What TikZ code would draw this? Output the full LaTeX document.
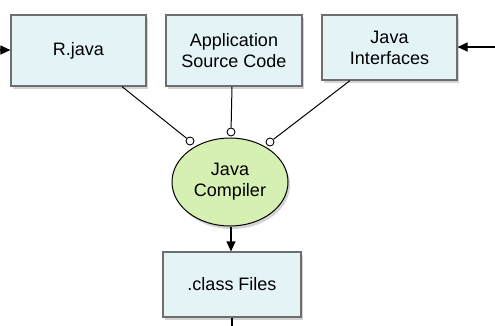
\documentclass[tikz,border=0pt]{standalone}
\usepackage{fontspec}
\setmainfont{Liberation Sans}
\usetikzlibrary{shapes.geometric,shadows,arrows.meta}
\definecolor{boxfill}{HTML}{E4F4F6}
\definecolor{ellfill}{HTML}{D6EFB2}
\definecolor{edge}{HTML}{6E6E6E}
\tikzset{
  srcbox/.style={draw=edge, line width=1.2pt, fill=boxfill, align=center,
    drop shadow={shadow xshift=2pt, shadow yshift=-3pt, opacity=0.35},
    font=\fontsize{18}{21}\selectfont, inner sep=0pt},
  compiler/.style={ellipse, draw=black, line width=1pt, fill=ellfill, align=center,
    drop shadow={shadow xshift=2pt, shadow yshift=-3pt, opacity=0.35},
    font=\fontsize{18}{21}\selectfont, inner sep=0pt},
  port/.style={circle, draw=black, line width=0.9pt, fill=white, minimum size=8pt, inner sep=0pt},
  link/.style={draw=black, line width=1pt},
  flow/.style={draw=black, line width=1.2pt, -{Triangle[length=10pt,width=9pt]}}
}
\begin{document}
\begin{tikzpicture}[x=1pt,y=-1pt]
\useasboundingbox (0,0) rectangle (495,325);
\node[srcbox, minimum width=135pt, minimum height=71pt] (rj) at (78.5,50.5) {R.java};
\node[srcbox, minimum width=136pt, minimum height=71pt] (app) at (234,50.5) {Application\\Source Code};
\node[srcbox, minimum width=135pt, minimum height=65pt] (ji) at (389.5,47.5) {Java\\Interfaces};
\node[compiler, minimum width=116pt, minimum height=88pt] (jc) at (230,182) {Java\\Compiler};
\node[srcbox, minimum width=138pt, minimum height=65pt] (cf) at (232,284.5) {.class Files};
\node[port] (p1) at (190,141) {};
\node[port] (p2) at (231,132) {};
\node[port] (p3) at (270,142) {};
\draw[link] ([xshift=43.5pt]rj.south) -- (p1);
\draw[link] ([xshift=-2pt]app.south) -- (p2);
\draw[link] ([xshift=-39.5pt]ji.south) -- (p3);
\coordinate (lin) at (-2,50);
\coordinate (rin) at (497,47);
\coordinate (bout) at (232,327);
\draw[flow] (lin) -- (rj.west |- lin);
\draw[flow] (rin) -- (ji.east |- rin);
\draw[flow] ([xshift=1pt]jc.south) -- ([xshift=-1pt]cf.north);
\draw[link, line width=1.2pt] (cf.south) -- (bout);
\end{tikzpicture}
\end{document}
